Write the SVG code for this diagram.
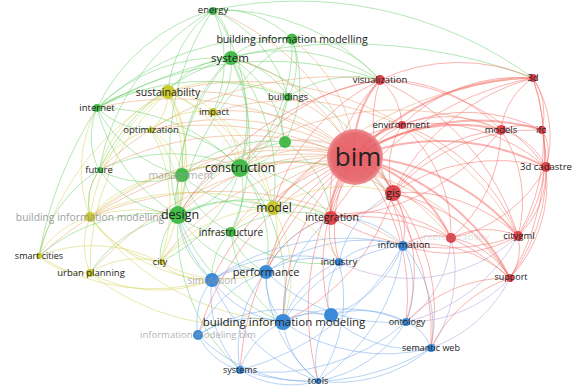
<svg xmlns="http://www.w3.org/2000/svg" width="574" height="386" viewBox="0 0 574 386">
<style>
.e path{fill:none;stroke-opacity:.5;stroke-width:1}
.r path{stroke:#f36a64}
.rt path{stroke:#f36a64;stroke-width:2}
.o path{stroke:#eaa070}
.g path{stroke:#6ccf6c}
.y path{stroke:#d6d45a}
.b path{stroke:#6fa8e8}
.p path{stroke:#b49ad6}
text{font-family:"Open Sans","Noto Sans","DejaVu Sans",sans-serif;fill:#222;text-anchor:middle}
.f{fill:#9a9a9a;opacity:.75}
.nr{fill:#e0454c}.ng{fill:#45bc4a}.ny{fill:#c9c82e}.nb{fill:#3a8ad8}
</style>
<defs>
<radialGradient id="bimg" cx="50%" cy="50%" r="50%">
<stop offset="0" stop-color="#e8575d"/>
<stop offset=".85" stop-color="#e5636a"/>
<stop offset="1" stop-color="#ec8a8e"/>
</radialGradient>
</defs>
<rect width="574" height="386" fill="#fff"/>
<g id="edges" class="e">
<g class="y">
<path d="M168 92A60 60 0 0 1 213 112"/><path d="M168 92A50 50 0 0 1 151 130"/><path d="M168 92A100 100 0 0 1 182 175"/><path d="M168 92A150 150 0 0 1 178 215"/><path d="M168 92A130 130 0 0 1 240 168"/><path d="M168 92A180 180 0 0 1 273 208"/><path d="M168 92A120 120 0 0 0 99 170"/><path d="M168 92A205 205 0 0 1 160 262"/><path d="M168 92A260 260 0 0 0 39 256"/><path d="M168 92A180 180 0 0 0 90 217"/><path d="M168 92A235 235 0 0 0 90 273"/><path d="M168 92A145 145 0 0 1 288 97"/>
<path d="M213 112A80 80 0 0 0 151 130"/><path d="M213 112A75 75 0 0 1 240 168"/><path d="M213 112A135 135 0 0 1 273 208"/><path d="M151 130A65 65 0 0 1 182 175"/><path d="M151 130A105 105 0 0 1 178 215"/><path d="M151 130A80 80 0 0 0 99 170"/><path d="M151 130A160 160 0 0 1 160 262"/>
<path d="M90 217A80 80 0 0 0 39 256"/><path d="M90 217A70 70 0 0 0 90 273"/><path d="M90 217A105 105 0 0 0 160 262"/><path d="M90 217A190 190 0 0 1 240 168"/><path d="M90 217A220 220 0 0 1 273 208"/><path d="M90 217A60 60 0 0 1 99 170"/><path d="M90 217A130 130 0 0 1 97 108"/><path d="M90 217A165 165 0 0 0 212 280"/><path d="M90 217A265 265 0 0 0 283 322"/><path d="M90 217A120 120 0 0 1 182 175"/><path d="M90 217A160 160 0 0 1 178 215"/>
<path d="M39 256A65 65 0 0 0 90 273"/><path d="M39 256A145 145 0 0 1 160 262"/><path d="M39 256A210 210 0 0 0 212 280"/><path d="M90 273A85 85 0 0 1 160 262"/><path d="M90 273A145 145 0 0 0 212 280"/><path d="M90 273A240 240 0 0 0 283 322"/><path d="M160 262A65 65 0 0 0 212 280"/><path d="M160 262A130 130 0 0 0 266 272"/><path d="M160 262A150 150 0 0 1 273 208"/><path d="M160 262A90 90 0 0 1 231 232"/>
<path d="M273 208A70 70 0 0 1 331 217"/><path d="M273 208A75 75 0 0 1 266 272"/><path d="M273 208A145 145 0 0 1 393 193"/><path d="M273 208A105 105 0 0 1 339 262"/><path d="M273 208A135 135 0 0 1 283 322"/><path d="M273 208A60 60 0 0 0 231 232"/>
</g>
<g class="o">
<path d="M273 208A355 355 0 0 1 533 78"/><path d="M168 92A300 300 0 0 1 402 125"/><path d="M151 130A320 320 0 0 1 451 238"/><path d="M90 217A340 340 0 0 1 403 245"/><path d="M213 112A260 260 0 0 1 518 236"/><path d="M178 215A280 280 0 0 1 501 130"/><path d="M240 168A260 260 0 0 1 510 278"/><path d="M99 170A340 340 0 0 1 380 80"/>
</g>
<g class="g">
<path d="M213 10A60 60 0 0 1 231 58"/><path d="M213 10A100 100 0 0 1 292 39"/><path d="M213 10A135 135 0 0 1 288 97"/><path d="M213 10A190 190 0 0 1 240 168"/><path d="M213 10A185 185 0 0 0 97 108"/><path d="M213 10A115 115 0 0 0 168 92"/><path d="M213 10A250 250 0 0 0 178 215"/><path d="M213 10A235 235 0 0 0 99 170"/><path d="M213 10A215 215 0 0 1 380 80"/><path d="M213 10A400 400 0 0 1 533 78"/><path d="M213 10A120 120 0 0 1 213 112"/>
<path d="M231 58A85 85 0 0 1 288 97"/><path d="M231 58A130 130 0 0 1 240 168"/><path d="M231 58A200 200 0 0 0 178 215"/><path d="M231 58A175 175 0 0 0 97 108"/><path d="M231 58A150 150 0 0 0 182 175"/><path d="M231 58A85 85 0 0 0 168 92"/><path d="M231 58A70 70 0 0 1 213 112"/><path d="M231 58A75 75 0 0 1 292 39"/><path d="M231 58A210 210 0 0 0 99 170"/><path d="M231 58A190 190 0 0 1 273 208"/><path d="M231 58A210 210 0 0 1 231 232"/><path d="M231 58A115 115 0 0 1 285 142"/><path d="M231 58A180 180 0 0 1 380 80"/><path d="M231 58A255 255 0 0 1 393 193"/>
<path d="M292 39A70 70 0 0 1 288 97"/><path d="M292 39A170 170 0 0 1 240 168"/><path d="M292 39A125 125 0 0 1 285 142"/><path d="M292 39A260 260 0 0 0 178 215"/><path d="M292 39A115 115 0 0 1 380 80"/><path d="M292 39A250 250 0 0 0 97 108"/>
<path d="M240 168A95 95 0 0 1 178 215"/><path d="M240 168A70 70 0 0 0 182 175"/><path d="M240 168A65 65 0 0 1 273 208"/><path d="M240 168A80 80 0 0 1 231 232"/><path d="M240 168A120 120 0 0 1 331 217"/><path d="M240 168A130 130 0 0 1 266 272"/><path d="M240 168A105 105 0 0 0 288 97"/><path d="M240 168A170 170 0 0 0 99 170"/><path d="M240 168A195 195 0 0 0 97 108"/><path d="M240 168A115 115 0 0 0 151 130"/><path d="M240 168A145 145 0 0 1 160 262"/><path d="M240 168A190 190 0 0 1 283 322"/><path d="M240 168A65 65 0 0 0 285 142"/><path d="M240 168A185 185 0 0 1 393 193"/>
<path d="M178 215A50 50 0 0 1 182 175"/><path d="M178 215A65 65 0 0 0 231 232"/><path d="M178 215A110 110 0 0 1 99 170"/><path d="M178 215A170 170 0 0 1 97 108"/><path d="M178 215A115 115 0 0 1 273 208"/><path d="M178 215A125 125 0 0 0 266 272"/><path d="M178 215A90 90 0 0 0 212 280"/><path d="M178 215A60 60 0 0 0 160 262"/><path d="M178 215A175 175 0 0 0 39 256"/><path d="M178 215A130 130 0 0 0 90 273"/><path d="M178 215A180 180 0 0 0 283 322"/><path d="M178 215A190 190 0 0 0 240 370"/><path d="M178 215A155 155 0 0 1 285 142"/><path d="M178 215A185 185 0 0 1 331 217"/>
<path d="M97 108A75 75 0 0 0 99 170"/><path d="M97 108A130 130 0 0 0 182 175"/><path d="M97 108A80 80 0 0 0 151 130"/><path d="M97 108A90 90 0 0 1 168 92"/><path d="M97 108A230 230 0 0 1 288 97"/><path d="M97 108A520 520 0 0 1 533 78"/><path d="M97 108A340 340 0 0 1 380 80"/><path d="M97 108A400 400 0 0 0 39 256"/>
<path d="M182 175A100 100 0 0 1 99 170"/><path d="M182 175A120 120 0 0 0 273 208"/><path d="M182 175A90 90 0 0 0 231 232"/><path d="M182 175A130 130 0 0 1 285 142"/>
<path d="M231 232A65 65 0 0 0 266 272"/><path d="M231 232A120 120 0 0 1 331 217"/><path d="M231 232A125 125 0 0 0 283 322"/><path d="M231 232A60 60 0 0 0 212 280"/><path d="M231 232A135 135 0 0 0 339 262"/>
<path d="M285 142A55 55 0 0 1 288 97"/><path d="M285 142A100 100 0 0 1 331 217"/><path d="M288 97A115 115 0 0 1 380 80"/><path d="M99 170A130 130 0 0 0 39 256"/><path d="M99 170A60 60 0 0 0 90 217"/>
</g>
<g class="b">
<path d="M283 322A65 65 0 0 1 266 272"/><path d="M283 322A100 100 0 0 1 212 280"/><path d="M283 322A105 105 0 0 0 198 335"/><path d="M283 322A80 80 0 0 0 240 370"/><path d="M283 322A85 85 0 0 0 318 381"/><path d="M283 322A150 150 0 0 1 406 322"/><path d="M283 322A180 180 0 0 0 431 348"/><path d="M283 322A170 170 0 0 1 403 245"/><path d="M283 322A100 100 0 0 1 339 262"/><path d="M283 322A56 56 0 0 1 330 316"/><path d="M283 322A135 135 0 0 1 331 217"/>
<path d="M266 272A65 65 0 0 0 212 280"/><path d="M266 272A90 90 0 0 1 339 262"/><path d="M266 272A165 165 0 0 1 403 245"/><path d="M266 272A120 120 0 0 0 240 370"/><path d="M266 272A140 140 0 0 0 318 381"/><path d="M266 272A115 115 0 0 0 198 335"/><path d="M266 272A180 180 0 0 0 406 322"/><path d="M266 272A100 100 0 0 1 331 217"/>
<path d="M403 245A92 92 0 0 1 406 322"/><path d="M403 245A125 125 0 0 1 431 348"/><path d="M403 245A80 80 0 0 0 339 262"/><path d="M403 245A265 265 0 0 1 240 370"/><path d="M403 245A190 190 0 0 1 318 381"/><path d="M403 245A122 122 0 0 1 330 316"/><path d="M403 245A235 235 0 0 0 212 280"/><path d="M403 245A96 96 0 0 0 331 217"/>
<path d="M240 370A95 95 0 0 0 318 381"/><path d="M240 370A65 65 0 0 1 198 335"/><path d="M240 370A110 110 0 0 1 212 280"/><path d="M240 370A205 205 0 0 0 406 322"/><path d="M240 370A230 230 0 0 0 431 348"/>
<path d="M318 381A145 145 0 0 0 431 348"/><path d="M318 381A130 130 0 0 0 406 322"/><path d="M318 381A155 155 0 0 1 198 335"/><path d="M318 381A180 180 0 0 1 212 280"/>
<path d="M431 348A43 43 0 0 0 406 322"/><path d="M198 335A67 67 0 0 1 212 280"/><path d="M198 335A160 160 0 0 1 330 316"/><path d="M330 316A92 92 0 0 1 406 322"/><path d="M330 316A66 66 0 0 1 339 262"/><path d="M330 316A80 80 0 0 0 318 381"/><path d="M330 316A125 125 0 0 0 431 348"/><path d="M212 280A155 155 0 0 1 339 262"/><path d="M339 262A145 145 0 0 1 318 381"/><path d="M339 262A100 100 0 0 1 393 193"/><path d="M212 280A120 120 0 0 1 178 215"/>
</g>
<g class="p">
<path d="M431 348A140 140 0 0 0 510 278"/><path d="M431 348A135 135 0 0 0 451 238"/><path d="M406 322A110 110 0 0 0 451 238"/><path d="M406 322A175 175 0 0 0 518 236"/><path d="M406 322A140 140 0 0 0 510 278"/><path d="M339 262A160 160 0 0 0 518 236"/>
</g>
<g class="r">
<path d="M393 193A80 80 0 0 1 331 217"/><path d="M393 193A160 160 0 0 1 518 236"/><path d="M393 193A185 185 0 0 1 546 167"/><path d="M393 193A135 135 0 0 1 380 80"/><path d="M393 193A80 80 0 0 1 402 125"/><path d="M393 193A85 85 0 0 1 451 238"/><path d="M393 193A65 65 0 0 1 403 245"/><path d="M393 193A220 220 0 0 1 533 78"/><path d="M393 193A145 145 0 0 1 501 130"/><path d="M393 193A190 190 0 0 1 542 130"/><path d="M393 193A175 175 0 0 1 510 278"/><path d="M393 193A155 155 0 0 1 406 322"/><path d="M393 193A190 190 0 0 1 431 348"/><path d="M393 193A205 205 0 0 1 283 322"/>
<path d="M518 236A190 190 0 0 0 533 78"/><path d="M518 236A90 90 0 0 0 546 167"/><path d="M518 236A130 130 0 0 0 501 130"/><path d="M518 236A130 130 0 0 0 542 130"/><path d="M518 236A80 80 0 0 0 451 238"/><path d="M518 236A52 52 0 0 1 510 278"/><path d="M518 236A250 250 0 0 0 380 80"/><path d="M518 236A190 190 0 0 0 402 125"/><path d="M518 236A225 225 0 0 1 331 217"/><path d="M518 236A140 140 0 0 1 403 245"/>
<path d="M533 78A72 72 0 0 0 501 130"/><path d="M533 78A64 64 0 0 1 542 130"/><path d="M533 78A110 110 0 0 1 546 167"/><path d="M533 78A185 185 0 0 0 380 80"/><path d="M533 78A165 165 0 0 0 402 125"/><path d="M533 78A240 240 0 0 1 510 278"/><path d="M533 78A305 305 0 0 0 331 217"/>
<path d="M542 130A50 50 0 0 0 501 130"/><path d="M542 130A45 45 0 0 1 546 167"/><path d="M542 130A180 180 0 0 1 510 278"/><path d="M542 130A170 170 0 0 0 402 125"/><path d="M501 130A68 68 0 0 1 546 167"/><path d="M501 130A120 120 0 0 0 402 125"/><path d="M501 130A160 160 0 0 0 380 80"/><path d="M501 130A145 145 0 0 1 451 238"/><path d="M501 130A225 225 0 0 1 331 217"/>
<path d="M546 167A140 140 0 0 1 510 278"/><path d="M546 167A140 140 0 0 1 451 238"/><path d="M546 167A180 180 0 0 0 402 125"/><path d="M546 167A225 225 0 0 0 380 80"/><path d="M510 278A85 85 0 0 0 451 238"/><path d="M510 278A230 230 0 0 0 331 217"/><path d="M510 278A130 130 0 0 0 403 245"/>
<path d="M380 80A60 60 0 0 1 402 125"/><path d="M380 80A170 170 0 0 0 331 217"/><path d="M380 80A195 195 0 0 0 240 168"/><path d="M380 80A300 300 0 0 0 178 215"/><path d="M380 80A200 200 0 0 0 273 208"/><path d="M402 125A140 140 0 0 0 331 217"/><path d="M402 125A145 145 0 0 1 451 238"/><path d="M402 125A200 200 0 0 0 273 208"/>
<path d="M451 238A145 145 0 0 0 331 217"/><path d="M451 238A58 58 0 0 0 403 245"/><path d="M331 217A55 55 0 0 0 339 262"/><path d="M331 217A100 100 0 0 0 266 272"/><path d="M510 278A140 140 0 0 0 406 322"/><path d="M510 278A135 135 0 0 0 431 348"/>
</g>
<g class="o">
<path d="M355 157A190 190 0 0 0 231 58"/><path d="M355 157A160 160 0 0 0 292 39"/><path d="M355 157A110 110 0 0 0 288 97"/><path d="M355 157A140 140 0 0 0 240 168"/><path d="M355 157A220 220 0 0 0 178 215"/><path d="M355 157A210 210 0 0 0 182 175"/><path d="M355 157A240 240 0 0 0 168 92"/><path d="M355 157A180 180 0 0 0 213 112"/><path d="M355 157A250 250 0 0 0 151 130"/><path d="M355 157A115 115 0 0 0 273 208"/><path d="M355 157A310 310 0 0 0 99 170"/><path d="M355 157A315 315 0 0 0 97 108"/><path d="M355 157A245 245 0 0 0 213 10"/><path d="M355 157A175 175 0 0 0 231 232"/><path d="M355 157A265 265 0 0 0 160 262"/><path d="M355 157A345 345 0 0 0 90 273"/><path d="M355 157A325 325 0 0 0 90 217"/><path d="M355 157A85 85 0 0 0 285 142"/><path d="M355 157A400 400 0 0 0 39 256"/>
</g>
<g class="r">
<path d="M355 157A175 175 0 0 0 266 272"/><path d="M355 157A225 225 0 0 0 212 280"/><path d="M355 157A215 215 0 0 0 283 322"/><path d="M355 157A210 210 0 0 1 406 322"/><path d="M355 157A245 245 0 0 1 431 348"/><path d="M355 157A290 290 0 0 0 240 370"/><path d="M355 157A270 270 0 0 0 318 381"/><path d="M355 157A285 285 0 0 0 198 335"/><path d="M355 157A195 195 0 0 0 330 316"/><path d="M355 157A130 130 0 0 0 339 262"/><path d="M355 157A120 120 0 0 1 403 245"/>
</g>
<g class="rt">
<path d="M355 157A80 80 0 0 0 331 217"/><path d="M355 157A65 65 0 0 1 393 193"/><path d="M355 157A100 100 0 0 1 380 80"/><path d="M355 157A70 70 0 0 1 402 125"/><path d="M355 157A235 235 0 0 1 533 78"/><path d="M355 157A180 180 0 0 1 501 130"/><path d="M355 157A225 225 0 0 1 542 130"/><path d="M355 157A230 230 0 0 1 546 167"/><path d="M355 157A220 220 0 0 1 518 236"/><path d="M355 157A150 150 0 0 1 451 238"/><path d="M355 157A235 235 0 0 1 510 278"/>
</g>
</g>
<g id="n-information-modeling"><circle class="ng" cx="285" cy="142" r="6"/><text class="f" x="272" y="142" dy=".35em" font-size="10" style="opacity:.12">information modeling</text></g>
<g id="n-energy"><circle class="ng" cx="213" cy="11" r="4"/><text x="213" y="10" dy=".35em" font-size="9.5">energy</text></g>
<g id="n-bim-modelling-g"><circle class="ng" cx="292" cy="39" r="5.5"/><text x="292" y="39" dy=".35em" font-size="10.5">building information modelling</text></g>
<g id="n-system"><circle class="ng" cx="231" cy="58" r="7"/><text x="230" y="58" dy=".35em" font-size="11.5">system</text></g>
<g id="n-buildings"><circle class="ng" cx="288" cy="97" r="4"/><text x="288" y="97" dy=".35em" font-size="9.5">buildings</text></g>
<g id="n-internet"><circle class="ng" cx="97" cy="108" r="4"/><text x="97" y="108" dy=".35em" font-size="9.5">internet</text></g>
<g id="n-future"><circle class="ng" cx="100" cy="170" r="3"/><text x="99" y="170" dy=".35em" font-size="9.5">future</text></g>
<g id="n-management"><circle class="ng" cx="182" cy="175" r="7"/><text class="f" x="181" y="175" dy=".35em" font-size="10.5">management</text></g>
<g id="n-construction"><circle class="ng" cx="240" cy="168" r="9"/><text x="240" y="168" dy=".35em" font-size="12">construction</text></g>
<g id="n-bim-modelling-y"><circle class="ny" cx="90" cy="217" r="5"/><text class="f" x="90" y="217" dy=".35em" font-size="10.3" style="opacity:.95">building information modelling</text></g>
<g id="n-design"><circle class="ng" cx="178" cy="215" r="9"/><text x="180" y="215" dy=".35em" font-size="12.5">design</text></g>
<g id="n-infrastructure"><circle class="ng" cx="231" cy="232" r="5"/><text x="231" y="232" dy=".35em" font-size="10">infrastructure</text></g>
<g id="n-sustainability"><circle class="ny" cx="168" cy="92" r="7"/><text x="168" y="92" dy=".35em" font-size="10.5">sustainability</text></g>
<g id="n-impact"><circle class="ny" cx="213" cy="112" r="4"/><text x="214" y="112" dy=".35em" font-size="9.5">impact</text></g>
<g id="n-optimization"><circle class="ny" cx="151" cy="130" r="3"/><text x="151" y="130" dy=".35em" font-size="9.5">optimization</text></g>
<g id="n-model"><circle class="ny" cx="273" cy="208" r="7"/><text x="274" y="208" dy=".35em" font-size="12">model</text></g>
<g id="n-smart-cities"><circle class="ny" cx="39" cy="256" r="3"/><text x="39" y="256" dy=".35em" font-size="9">smart cities</text></g>
<g id="n-urban-planning"><circle class="ny" cx="90" cy="273" r="4"/><text x="91" y="273" dy=".35em" font-size="9.5">urban planning</text></g>
<g id="n-city"><circle class="ny" cx="162" cy="262" r="3"/><text x="160" y="262" dy=".35em" font-size="9">city</text></g>
<g id="n-visualization"><circle class="nr" cx="380" cy="80" r="5"/><text x="380" y="80" dy=".35em" font-size="9.5">visualization</text></g>
<g id="n-environment"><circle class="nr" cx="402" cy="125" r="4"/><text x="401" y="125" dy=".35em" font-size="9.5">environment</text></g>
<g id="n-3d"><circle class="nr" cx="533" cy="78" r="4"/><text x="533" y="78" dy=".35em" font-size="9.5">3d</text></g>
<g id="n-models"><circle class="nr" cx="501" cy="130" r="5"/><text x="501" y="130" dy=".35em" font-size="9.5">models</text></g>
<g id="n-ifc"><circle class="nr" cx="542" cy="130" r="4"/><text x="541" y="130" dy=".35em" font-size="9.5">ifc</text></g>
<g id="n-3d-cadastre"><circle class="nr" cx="546" cy="167" r="5"/><text x="546" y="167" dy=".35em" font-size="9.5">3d cadastre</text></g>
<g id="n-interoperability"><circle class="nr" cx="451" cy="238" r="5"/><text class="f" x="455" y="237" dy=".35em" font-size="9.5" style="opacity:.3">interoperability</text></g>
<g id="n-citygml"><circle class="nr" cx="518" cy="236" r="5"/><text x="519" y="236" dy=".35em" font-size="9.5">citygml</text></g>
<g id="n-support"><circle class="nr" cx="510" cy="278" r="4"/><text x="511" y="277" dy=".35em" font-size="9">support</text></g>
<g id="n-gis"><circle class="nr" cx="393" cy="193" r="8"/><text x="393" y="193" dy=".35em" font-size="11">gis</text></g>
<g id="n-integration"><circle class="nr" cx="331" cy="218" r="7"/><text x="332" y="217" dy=".35em" font-size="10.5">integration</text></g>
<g id="n-information"><circle class="nb" cx="403" cy="246" r="5"/><text x="404" y="245" dy=".35em" font-size="9.5">information</text></g>
<g id="n-industry"><circle class="nb" cx="339" cy="262" r="4"/><text x="339" y="262" dy=".35em" font-size="9.5">industry</text></g>
<g id="n-performance"><circle class="nb" cx="266" cy="272" r="7"/><text x="266" y="272" dy=".35em" font-size="11">performance</text></g>
<g id="n-simulation"><circle class="nb" cx="212" cy="280" r="7"/><text class="f" x="212" y="280" dy=".35em" font-size="10">simulation</text></g>
<g id="n-bim-modeling-2"><circle class="nb" cx="331" cy="315" r="7"/></g>
<g id="n-bim-modeling"><circle class="nb" cx="283" cy="322" r="8"/><text x="284" y="322" dy=".35em" font-size="11.5">building information modeling</text></g>
<g id="n-information-modeling-bim"><circle class="nb" cx="198" cy="335" r="5"/><text class="f" x="198" y="335" dy=".35em" font-size="9.5">information modeling bim</text></g>
<g id="n-ontology"><circle class="nb" cx="406" cy="322" r="4"/><text x="407" y="322" dy=".35em" font-size="9">ontology</text></g>
<g id="n-semantic-web"><circle class="nb" cx="431" cy="348" r="4"/><text x="431" y="348" dy=".35em" font-size="9">semantic web</text></g>
<g id="n-systems"><circle class="nb" cx="240" cy="370" r="4"/><text x="240" y="370" dy=".35em" font-size="9">systems</text></g>
<g id="n-tools"><circle class="nb" cx="318" cy="381" r="3"/><text x="318" y="381" dy=".35em" font-size="9">tools</text></g>
<g id="n-bim"><circle cx="355" cy="157" r="28" fill="url(#bimg)" opacity=".92"/><text x="358" y="157" dy=".35em" font-size="26" fill="#1a1a1a">bim</text></g>
</svg>
